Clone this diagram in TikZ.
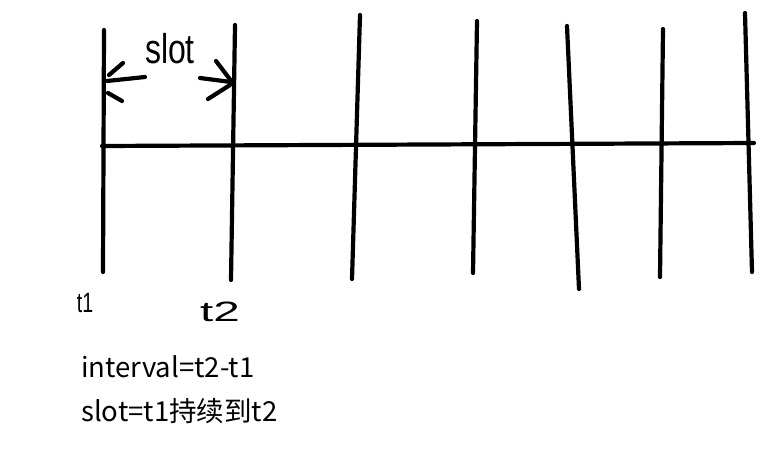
\documentclass[tikz,border=0pt]{standalone}
\usepackage{fontspec}
\newfontfamily\cjk{Noto Sans CJK SC}
\newfontfamily\handfont{Liberation Sans}
\begin{document}
\begin{tikzpicture}[x=1pt,y=-1pt,
  stroke/.style={line width=4.2pt,line cap=round,black},
  hand/.style={font=\handfont\fontsize{28}{28}\selectfont,inner sep=0pt,anchor=base},
  caption/.style={font=\cjk\fontsize{27.5}{30}\selectfont,inner sep=0pt,anchor=base west}]
\useasboundingbox (0,0) rectangle (784,472);
\fill[white] (0,0) rectangle (784,472);
% axis
\coordinate (h0) at (102,146);
\coordinate (h1) at (754,143);
\draw[stroke] (h0) -- (h1);
% ticks
\coordinate (a1) at (104,30);  \coordinate (b1) at (103,272);
\coordinate (a2) at (235,25);  \coordinate (b2) at (231,280);
\coordinate (a3) at (360,15);  \coordinate (b3) at (352,279);
\coordinate (a4) at (477,21);  \coordinate (b4) at (473,273);
\coordinate (a5) at (567,26);  \coordinate (b5) at (579,289);
\coordinate (a6) at (663,29);  \coordinate (b6) at (660,277);
\coordinate (a7) at (745,13);  \coordinate (b7) at (752,272);
\foreach \i in {1,...,7}{\draw[stroke] (a\i) -- (b\i);}
% left arrow
\coordinate (la0) at (145,77); \coordinate (la1) at (107,81);
\draw[stroke] (la0) -- (la1);
\coordinate (lu0) at (123,63); \coordinate (lu1) at (109,75);
\draw[stroke] (lu0) -- (lu1);
\coordinate (ll0) at (108,93); \coordinate (ll1) at (122,101);
\draw[stroke] (ll0) -- (ll1);
% right arrow
\coordinate (ra0) at (200,78); \coordinate (ra1) at (231,82);
\draw[stroke] (ra0) -- (ra1);
\coordinate (ru0) at (216,61); \coordinate (ru1) at (232,82);
\draw[stroke] (ru0) -- (ru1);
\coordinate (rl0) at (208,99); \coordinate (rl1) at (230,85);
\draw[stroke] (rl0) -- (rl1);
% handwritten labels
\node[hand,font=\handfont\fontsize{32}{32}\selectfont,yscale=1.3] (slot) at (170,63) {slot};
\node[hand,xscale=0.7] (t1) at (85,312) {t1};
\node[hand,xscale=1.7] (t2) at (220,321) {t2};
% captions
\node[caption] (c1) at (81,377) {interval=t2-t1};
\node[caption] (c2) at (81,421) {slot=t1持续到t2};
\end{tikzpicture}
\end{document}
